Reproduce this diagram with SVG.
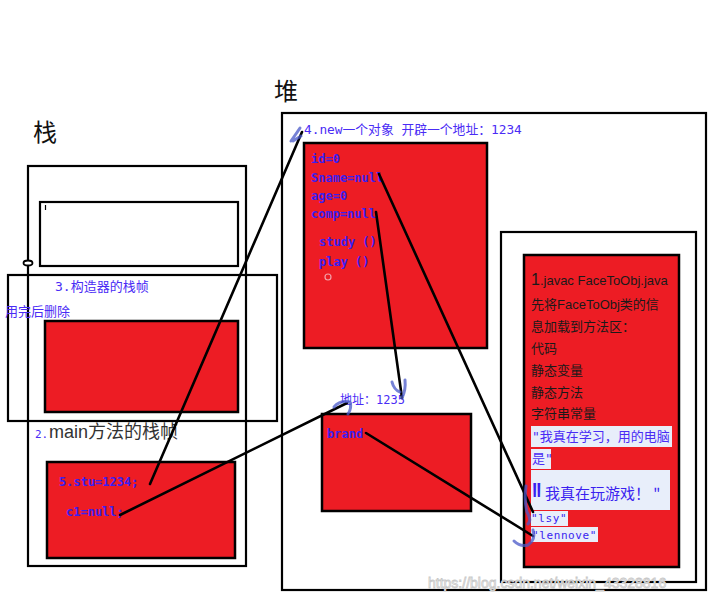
<svg xmlns="http://www.w3.org/2000/svg" width="710" height="599" viewBox="0 0 710 599">
<style>
.frame{fill:#fff;stroke:#000;stroke-width:2.2}
.frameT{fill:none;stroke:#000;stroke-width:2.2}
.red{fill:#ed1c24;stroke:#000;stroke-width:2.5}
.title{font-family:"Noto Sans CJK SC","Noto Sans",sans-serif;font-size:24px;fill:#111}
.code{font-family:"DejaVu Sans Mono","Liberation Mono","Noto Sans CJK SC",monospace;font-size:12px;fill:#3a1ff0;font-weight:bold}
.cn{font-family:"DejaVu Sans Mono","Noto Sans CJK SC",monospace;font-size:13px;fill:#4a2cf5}
.dark{font-family:"Liberation Sans","Noto Sans CJK SC",sans-serif;font-size:13px;fill:#1a1a1a}
.str{fill:#e8eefa}
.strt{font-family:"DejaVu Sans Mono","Noto Sans CJK SC",monospace;font-size:11px;letter-spacing:0.6px;fill:#3a1ff0}
.link{fill:none;stroke:#000;stroke-width:2.6;stroke-linecap:round}
.scrib{fill:none;stroke:#4858c8;stroke-opacity:0.75;stroke-width:3;stroke-linecap:round;stroke-linejoin:round}
</style>

<text class="title" x="33" y="141">栈</text>
<text class="title" x="274" y="100">堆</text>
<text class="title" x="499" y="222">方法区</text>

<g id="stack">
  <rect class="frame" x="28" y="166" width="218" height="400"/>
  <ellipse cx="28" cy="263" rx="4.5" ry="2.5" fill="#fff" stroke="#000" stroke-width="1.8"/>
</g>

<g id="stack-top-frame">
  <rect class="frame" x="40" y="202" width="198" height="64"/>
  <line x1="45.5" y1="205" x2="45.5" y2="210" stroke="#000" stroke-width="1.2"/>
</g>

<g id="constructor-frame">
  <rect class="frameT" x="8" y="275" width="269" height="146"/>
  <text class="cn" x="55" y="291">3.构造器的栈帧</text>
  <text class="cn" x="5" y="316">用完后删除</text>
  <rect class="red" x="45" y="321" width="193" height="91"/>
</g>

<g id="main-frame">
  <text class="cn" x="35" y="438" style="font-size:11px">2.</text>
  <text x="49" y="438" style="font-family:'Liberation Sans','Noto Sans CJK SC',sans-serif;font-size:18px;fill:#333">main方法的栈帧</text>
  <rect class="red" x="47" y="462" width="188" height="96"/>
  <text class="code" x="59" y="486">5.stu=1234;</text>
  <text class="code" x="66" y="516">c1=null;</text>
</g>

<g id="heap">
  <rect class="frame" x="282" y="113" width="424" height="477"/>
  <text class="cn" x="304" y="134" style="font-size:12.8px">4.new一个对象  开辟一个地址：1234</text>
</g>

<g id="student-object">
  <rect class="red" x="304" y="143" width="183" height="205"/>
  <text class="code" x="311" y="163">id=0</text>
  <text class="code" x="311" y="182">Sname=null</text>
  <text class="code" x="311" y="200">age=0</text>
  <text class="code" x="311" y="218">comp=null</text>
  <text class="code" x="319" y="246">study ()</text>
  <text class="code" x="319" y="266">play ()</text>
  <circle cx="328" cy="277" r="3" fill="none" stroke="#f2a0a8" stroke-width="1.2"/>
</g>

<g id="computer-object">
  <text class="cn" x="340" y="404" style="font-size:12px">地址：1235</text>
  <rect class="red" x="322" y="414" width="149" height="97"/>
  <text class="code" x="327" y="438">brand</text>
</g>

<g id="method-area">
  <rect class="frame" x="501" y="232" width="195" height="350"/>
  <rect class="red" x="524" y="255" width="155" height="312"/>
  <text class="dark" x="531" y="285"><tspan style="font-size:16px">1</tspan>.javac FaceToObj.java</text>
  <text class="dark" x="531" y="309">先将FaceToObj类的信</text>
  <text class="dark" x="531" y="331">息加载到方法区：</text>
  <text class="dark" x="531" y="353">代码</text>
  <text class="dark" x="531" y="375">静态变量</text>
  <text class="dark" x="531" y="397">静态方法</text>
  <text class="dark" x="531" y="418">字符串常量</text>
</g>

<g id="string-pool">
  <rect class="str" x="531" y="426" width="141" height="21"/>
  <text class="cn" x="532" y="441">"我真在学习，用的电脑</text>
  <rect class="str" x="531" y="449" width="20" height="20"/>
  <text class="cn" x="532" y="463">是"</text>
  <rect class="str" x="531" y="470" width="139" height="40"/>
  <text transform="translate(532,521) scale(1,2.8)" style="font-family:'Liberation Sans',sans-serif;font-size:20px;font-weight:bold;fill:#3a1ff0">"</text>
  <text x="545" y="499" style="font-family:'Noto Sans CJK SC',sans-serif;font-size:15px;fill:#3a1ff0">我真在玩游戏！ "</text>
  <rect class="str" x="531" y="511" width="37" height="15"/>
  <text class="strt" x="531" y="522">"lsy"</text>
  <rect class="str" x="531" y="527" width="67" height="15"/>
  <text class="strt" x="532" y="539">"lennove"</text>
</g>

<g id="connectors">
  <line class="link" x1="150" y1="484" x2="302" y2="132"/>
  <line class="link" x1="120" y1="515" x2="347" y2="403"/>
  <line class="link" x1="376" y1="212" x2="402" y2="398"/>
  <line class="link" x1="379" y1="174" x2="533" y2="512"/>
  <line class="link" x1="366" y1="433" x2="533" y2="536"/>
  <path class="scrib" d="M291 141 Q296 134 300 128 M293 141 L301 136"/>
  <path class="scrib" d="M392 382 Q394 390 400 392 M405 380 Q406 390 402 398"/>
  <path class="scrib" d="M334 407 Q340 400 350 402 Q352 408 348 414"/>
  <path class="scrib" d="M526 486 Q524 500 527 512 Q532 520 528 524"/>
  <path class="scrib" d="M533 530 Q536 540 528 545 Q520 547 514 541"/>
</g>

<text x="428" y="588" style="font-family:'Liberation Sans',sans-serif;font-size:14px;fill:#fff;stroke:#c8c8c8;stroke-width:0.8">https://blog.csdn.net/weixin_43328816</text>
</svg>
